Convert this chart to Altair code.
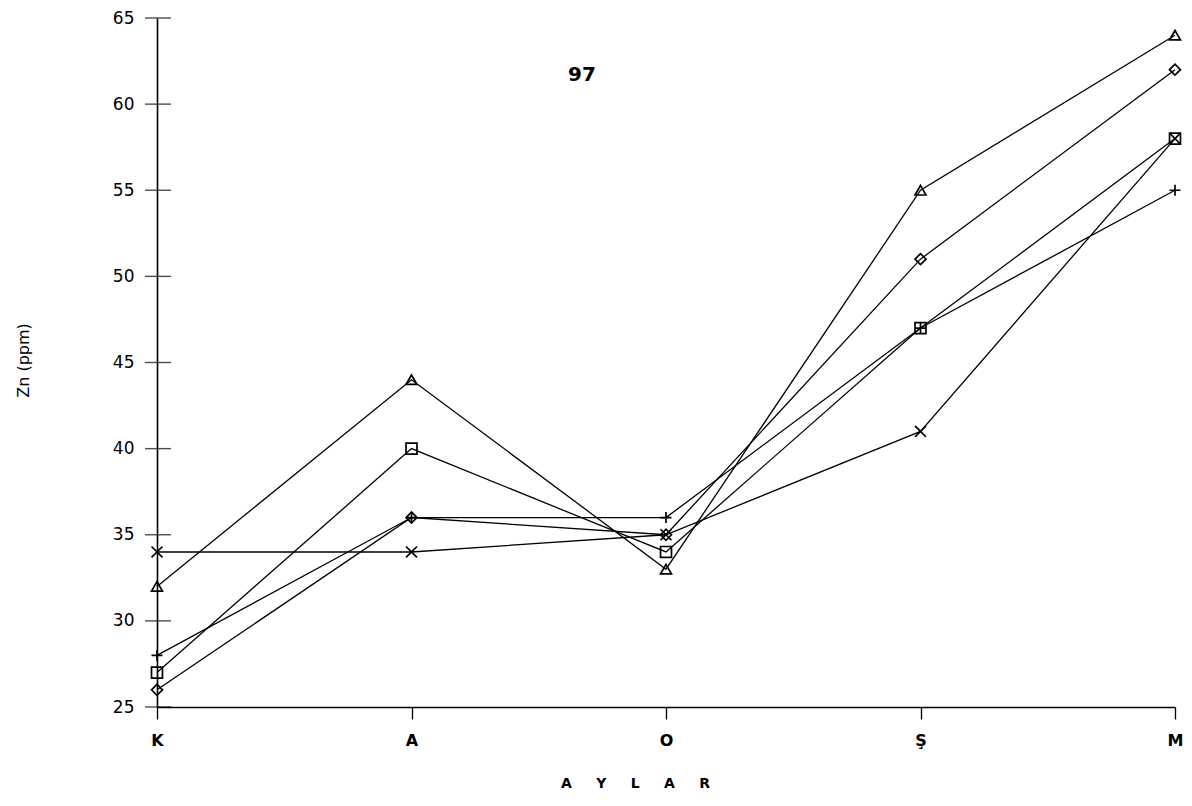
import altair as alt
import pandas as pd

months = ["K", "A", "O", "Ş", "M"]
series_names = ["triangle", "diamond", "square", "plus", "cross"]
tri_vals = [32, 44, 33, 55, 64]
dia_vals = [26, 36, 35, 51, 62]
sq_vals = [27, 40, 34, 47, 58]
plus_vals = [28, 36, 36, 47, 55]
cross_vals = [34, 34, 35, 41, 58]
y_ticks = [25, 30, 35, 40, 45, 50, 55, 60, 65]
title_text = ["97"]

shapes = ["triangle-up", "diamond", "square",
          "M-1,0L1,0M0,-1L0,1", "M-1,-1L1,1M-1,1L1,-1"]

rows = []
for name, vals in zip(series_names, [tri_vals, dia_vals, sq_vals, plus_vals, cross_vals]):
    for m, v in zip(months, vals):
        rows.append({"series": name, "month": m, "value": v})
df = pd.DataFrame(rows)
ticks_df = pd.DataFrame({"t": y_ticks})
title_df = pd.DataFrame({"label": title_text})

FONT = "DejaVu Sans"
NB = "\u00a0" * 5
x_title = NB.join(["A", "Y", "L", "A", "R"])

x_enc = alt.X("month:O", sort=months,
              scale=alt.Scale(type="point", padding=0),
              axis=alt.Axis(title=x_title, labelAngle=0, labelFont=FONT, grid=False,
                            labelFontSize=16, labelFontWeight="bold", labelColor="black",
                            labelPadding=13, tickSize=12, tickColor="black", tickWidth=1.3,
                            domainColor="black", domainWidth=1.6,
                            titleFont=FONT, titleFontSize=14, titleFontWeight="bold",
                            titleX=478, titleY=69, titleColor="black"))
y_scale = alt.Scale(domain=[25, 65], nice=False, zero=False)
y_enc = alt.Y("value:Q", scale=y_scale,
              axis=alt.Axis(title="Zn (ppm)", values=y_ticks, ticks=False, grid=False,
                            labelFont=FONT, labelFontSize=17, labelColor="black",
                            labelPadding=23, domainColor="black", domainWidth=1.6,
                            titleFont=FONT, titleFontSize=16, titleFontWeight="normal",
                            titleColor="black", titleX=-126, titleY=342))

lines = alt.Chart(df).mark_line(color="black", strokeWidth=1.3).encode(
    x=x_enc, y=y_enc, detail="series:N")

points = alt.Chart(df).mark_point(filled=False, color="black", strokeWidth=1.7, size=120,
                                  opacity=1).encode(
    x=alt.X("month:O", sort=months),
    y=alt.Y("value:Q"),
    shape=alt.Shape("series:N", scale=alt.Scale(domain=series_names, range=shapes),
                    legend=None))

yticks = alt.Chart(ticks_df).mark_tick(orient="horizontal", color="black", size=26,
                                       thickness=1.4).encode(
    y=alt.Y("t:Q", scale=y_scale), x=alt.value(1))

title = alt.Chart(title_df).mark_text(font=FONT, fontSize=20, fontWeight="bold",
                                      color="black").encode(
    text="label:N", x=alt.value(425), y=alt.value(57))

chart = alt.layer(lines, points, yticks, title).properties(
    width=1018, height=689,
    background="white",
    autosize=alt.AutoSizeParams(type="none"),
    padding={"left": 149, "top": 10, "right": 9, "bottom": 90},
).configure_view(stroke=None)

chart.save("out.html", embed_options={"renderer": "svg", "actions": False})
